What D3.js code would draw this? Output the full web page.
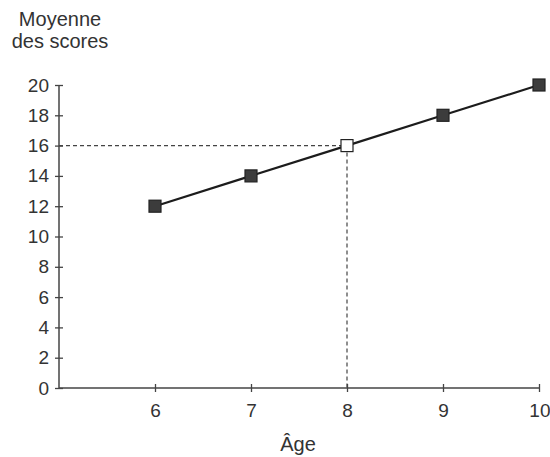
<!DOCTYPE html>
<html>
<head>
<meta charset="utf-8">
<script src="https://cdn.jsdelivr.net/npm/d3@7"></script>
<style>
  html, body { margin: 0; padding: 0; background: #fff; }
  svg { display: block; font-family: "Liberation Sans", Arial, sans-serif; }
</style>
</head>
<body>
<svg id="chart" width="550" height="457"></svg>
<script>
// Mean score by age
const ages = [6, 7, 8, 9, 10];
const scores = [12, 14, 16, 18, 20];
const highlightAge = 8;
const yTicks = [0, 2, 4, 6, 8, 10, 12, 14, 16, 18, 20];
const xTicks = [6, 7, 8, 9, 10];
const yTitleLines = ["Moyenne", "des scores"];
const xTitle = "Âge";

const svg = d3.select("#chart");
const plotLeft = 59, plotRight = 539, plotTop = 85, plotBottom = 388;

const x = d3.scaleLinear().domain([5, 10]).range([plotLeft, plotRight]);
const y = d3.scaleLinear().domain([0, 20]).range([plotBottom, plotTop]);

const axisColor = "#444";
const textColor = "#333";
const tickFont = "19px";

// Y axis
const yAxis = svg.append("g")
  .attr("transform", `translate(${plotLeft},0)`)
  .call(d3.axisLeft(y).tickValues(yTicks).tickFormat(d3.format("d")).tickSize(4).tickPadding(6));
yAxis.select(".domain").remove();
yAxis.selectAll(".tick line")
  .attr("x1", -4).attr("x2", 4)
  .attr("stroke", axisColor).attr("stroke-width", 1.3);
yAxis.selectAll(".tick text")
  .attr("x", -10)
  .attr("fill", textColor)
  .style("font-size", tickFont);
svg.append("line")
  .attr("x1", plotLeft).attr("x2", plotLeft)
  .attr("y1", y(20)).attr("y2", y(0))
  .attr("stroke", axisColor).attr("stroke-width", 1.5);

// X axis
const xAxis = svg.append("g")
  .attr("transform", `translate(0,${plotBottom})`)
  .call(d3.axisBottom(x).tickValues(xTicks).tickFormat(d3.format("d")).tickSize(4).tickPadding(12));
xAxis.select(".domain").remove();
xAxis.selectAll(".tick line")
  .attr("y1", -4).attr("y2", 4)
  .attr("stroke", axisColor).attr("stroke-width", 1.3);
xAxis.selectAll(".tick text")
  .attr("fill", textColor)
  .attr("dy", "0")
  .attr("y", 29)
  .style("font-size", tickFont);
// keep the last label ("10") inside the frame
xAxis.selectAll(".tick text")
  .filter(d => d === 10)
  .attr("text-anchor", "end")
  .attr("x", 11);
svg.append("line")
  .attr("x1", plotLeft).attr("x2", plotRight)
  .attr("y1", plotBottom).attr("y2", plotBottom)
  .attr("stroke", axisColor).attr("stroke-width", 1.5);

// Reading guides for the highlighted age
const hi = ages.indexOf(highlightAge);
const hiScore = scores[hi];
svg.append("line")
  .attr("x1", x(5)).attr("x2", x(highlightAge))
  .attr("y1", y(hiScore)).attr("y2", y(hiScore))
  .attr("stroke", "#444").attr("stroke-width", 1.2)
  .attr("stroke-dasharray", "4,3");
svg.append("line")
  .attr("x1", x(highlightAge)).attr("x2", x(highlightAge))
  .attr("y1", y(hiScore)).attr("y2", y(0))
  .attr("stroke", "#444").attr("stroke-width", 1.2)
  .attr("stroke-dasharray", "4,3");

// Line
const pts = ages.map((a, i) => ({ age: a, score: scores[i] }));
svg.append("path")
  .datum(pts)
  .attr("fill", "none")
  .attr("stroke", "#1c1c1c")
  .attr("stroke-width", 2.2)
  .attr("d", d3.line().x(d => x(d.age)).y(d => y(d.score)));

// Markers
const s = 12;
svg.selectAll("rect.marker")
  .data(pts)
  .join("rect")
  .attr("class", "marker")
  .attr("x", d => x(d.age) - s / 2)
  .attr("y", d => y(d.score) - s / 2)
  .attr("width", s).attr("height", s)
  .attr("fill", d => d.age === highlightAge ? "#fff" : "#3c3c3c")
  .attr("stroke", "#222")
  .attr("stroke-width", 1.2);

// Titles
svg.append("text")
  .attr("text-anchor", "middle")
  .attr("fill", textColor)
  .style("font-size", "20px")
  .selectAll("tspan")
  .data(yTitleLines)
  .join("tspan")
  .attr("x", 60)
  .attr("y", (d, i) => 26 + i * 21.5)
  .text(d => d);

svg.append("text")
  .attr("x", 298).attr("y", 451)
  .attr("text-anchor", "middle")
  .attr("fill", textColor)
  .style("font-size", "20px")
  .text(xTitle);
</script>
</body>
</html>
